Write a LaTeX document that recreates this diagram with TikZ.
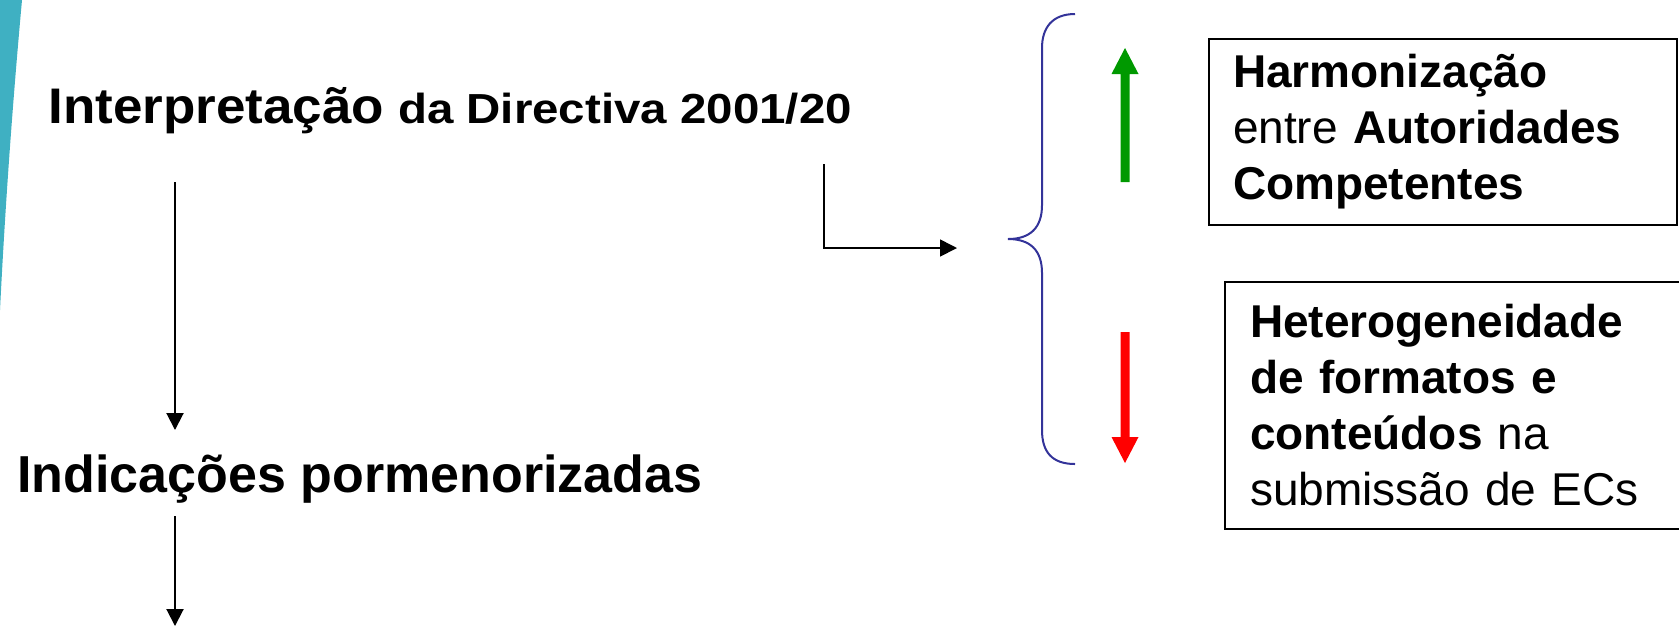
\documentclass[tikz,border=0pt]{standalone}
\usepackage{fontspec}
\setmainfont{Liberation Sans}
\usetikzlibrary{calc}
\usetikzlibrary{arrows.meta}

\definecolor{bracecol}{HTML}{333399}
\definecolor{upgreen}{HTML}{009900}
\definecolor{downred}{HTML}{FF0000}
\definecolor{slideteal}{HTML}{3FB0C2}

\tikzset{
 conn/.style={line width=1pt, -{Triangle[length=8.5pt,width=8.5pt]}},
 infobox/.style={draw, line width=1pt, anchor=north west, align=left, inner xsep=12pt,
   font=\fontsize{23}{28}\selectfont},
 title/.style={anchor=base west, inner sep=0pt},
}

\begin{document}
\begin{tikzpicture}[x=0.5pt, y=-0.5pt]
\useasboundingbox (0,0) rectangle (1679,629);
\clip (0,0) rectangle (1679,629);

% slide corner
\fill[slideteal] (0,0) -- (22,0) .. controls (12,110) and (5,210) .. (0,310) -- cycle;

\node[title, font=\bfseries\fontsize{25}{30}\selectfont] (interp) at (48,123)
  {\scalebox{1.06}[1]{Interpretação} \scalebox{1.13}[1]{\fontsize{21}{25}\selectfont da Directiva 2001/20}};
\node[title, font=\bfseries\fontsize{26}{31}\selectfont] (indic) at (17,492)
  {Indicações pormenorizadas};

\node[infobox, text width=210pt, minimum height=93pt] (harm) at (1208,38)
  {\textbf{Harmonização}\\ entre \textbf{Autoridades}\\ \textbf{Competentes}};
\node[infobox, text width=213pt, minimum height=123.5pt, inner xsep=12.5pt] (hetero) at (1224,281)
  {\textbf{Heterogeneidade}\\ \textbf{de formatos e}\\ \textbf{conteúdos} na\\ submissão de ECs};

% brace
\coordinate (tip) at (1008,239);
\draw[bracecol, line width=1pt] (1075,14) .. controls (1052,14) and (1042,28) .. (1042,48)
  -- (1042,205) .. controls (1042,228) and (1030,239) .. (tip)
  .. controls (1030,239) and (1042,250) .. (1042,273)
  -- (1042,430) .. controls (1042,452) and (1052,464) .. (1075,464);

% flow arrows
\draw[conn] (interp.base west) ++(127,59) -- ++(0,248);
\draw[conn] (indic.base west) ++(158,24) -- ++(0,110);
\draw[conn, line width=0.8pt] (interp.base west) ++(776,41) |- ($(tip)+(-51,9)$);

% up and down
\fill[upgreen] (1120.5,182) -- (1120.5,74) -- (1111.5,74) -- (1125,48) -- (1138.5,74) -- (1129.5,74) -- (1129.5,182) -- cycle;
\fill[downred] (1120.5,332) -- (1120.5,437) -- (1111.5,437) -- (1125,463) -- (1138.5,437) -- (1129.5,437) -- (1129.5,332) -- cycle;

\end{tikzpicture}
\end{document}
